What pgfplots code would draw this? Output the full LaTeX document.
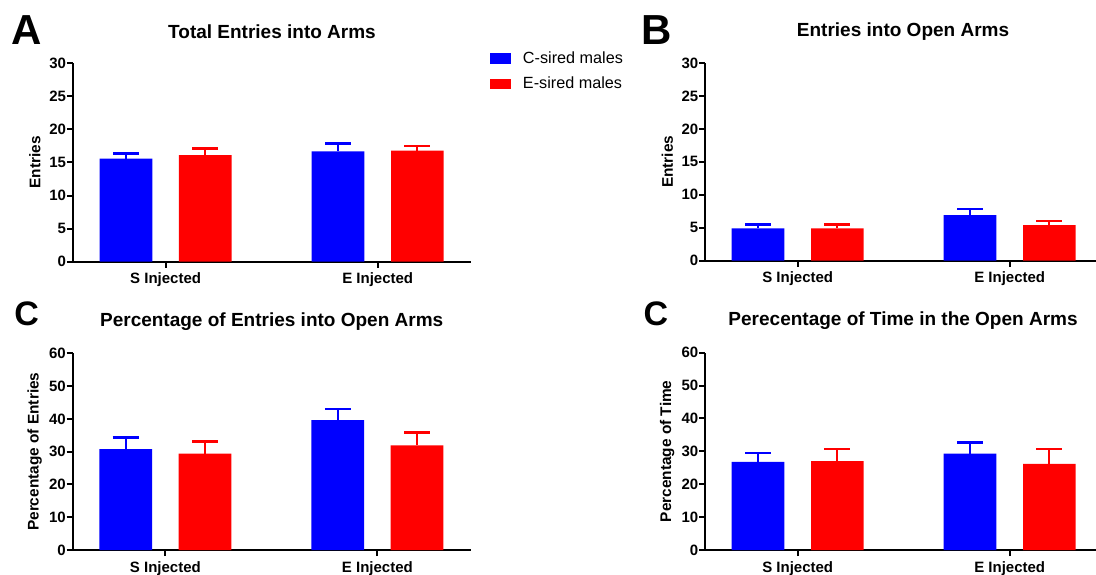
\documentclass[border=0pt]{standalone}
\usepackage{fontspec}
\setmainfont{Liberation Sans}
\usepackage{pgfplots}
\pgfplotsset{compat=1.18}
\definecolor{cblue}{RGB}{0,0,255}
\definecolor{cred}{RGB}{255,0,0}
\pgfplotsset{
  panel/.style={
    scale only axis,
    axis lines*=left,
    axis line style={line width=1pt},
    every tick/.style={line width=1pt, black},
    tick align=outside,
    ymin=0,
    xtick={0,1},
    xticklabels={S Injected, E Injected},
    major tick length=3pt,
    ticklabel style={font=\bfseries\fontsize{7.5}{9}\selectfont},
    yticklabel style={inner sep=0pt, xshift=-0.3pt},
    xticklabel style={yshift=0.9pt},
    /pgf/number format/assume math mode=true,
    every axis y label/.style={font=\bfseries\fontsize{7.7}{9}\selectfont, rotate=90, anchor=center},
    every axis title/.style={font=\bfseries\fontsize{9.5}{11}\selectfont, at={(axis description cs:0.5,1)}, anchor=center, yshift=15.8pt},
    bar width=0.2486,
    clip=false,
  },
  leftp/.style={panel, xmin=-0.437, xmax=1.440, width=199pt,
    ylabel style={at={(axis description cs:-0.0955,0.5)}}},
  rightp/.style={panel, xmin=-0.436, xmax=1.407, width=195.35pt,
    ylabel style={at={(axis description cs:-0.0973,0.5)}}, title style={xshift=1.2pt}},
  bb/.style={ybar, bar shift=0pt, fill=cblue, draw=none,
    error bars/.cd, y dir=plus, y explicit,
    error bar style={line width=1pt, cblue},
    error mark options={rotate=90, mark size=6.5pt, line width=1.3pt, cblue}},
  rb/.style={ybar, bar shift=0pt, fill=cred, draw=none,
    error bars/.cd, y dir=plus, y explicit,
    error bar style={line width=1pt, cred},
    error mark options={rotate=90, mark size=6.5pt, line width=1.3pt, cred}},
}
\begin{document}
\begin{tikzpicture}
\path[use as bounding box] (0,0) rectangle (548pt,287pt);
% Panel A
\begin{axis}[leftp, at={(36.5pt,156.15pt)}, anchor=south west, height=99.2pt,
  ymax=30, ytick={0,5,...,30}, ylabel={Entries}, title={Total Entries into Arms},
  legend style={draw=none, fill=none, at={(axis description cs:1.0477,1.062)}, anchor=north west,
    font=\fontsize{8.1}{9.5}\selectfont, row sep=5.2pt, inner sep=0pt,
    nodes={inner sep=0pt, anchor=west}},
  legend cell align=left,
  legend image code/.code={\fill[#1] (0pt,-2.65pt) rectangle (10.5pt,2.65pt);},
  ]
\addplot[bb] coordinates {(-0.187,15.6) +- (0,0.8) (0.813,16.7) +- (0,1.2)};
\addlegendentry{\hspace{5.8pt}C-sired males}
\addplot[rb] coordinates {(0.187,16.1) +- (0,1.0) (1.187,16.8) +- (0,0.7)};
\addlegendentry{\hspace{5.8pt}E-sired males}
\end{axis}
% Panel B
\begin{axis}[rightp, at={(352.65pt,156.65pt)}, anchor=south west, height=98.85pt,
  ymax=30, ytick={0,5,...,30}, ylabel={Entries}, title={Entries into Open Arms}]
\addplot[bb] coordinates {(-0.187,4.9) +- (0,0.6) (0.813,6.9) +- (0,0.95)};
\addplot[rb] coordinates {(0.187,4.9) +- (0,0.6) (1.187,5.4) +- (0,0.65)};
\end{axis}
% Panel C
\begin{axis}[leftp, at={(36.35pt,12pt)}, anchor=south west, height=98.35pt,
  ymax=60, ytick={0,10,...,60}, ylabel={Percentage of Entries}, title={Percentage of Entries into Open Arms}]
\addplot[bb] coordinates {(-0.187,30.8) +- (0,3.6) (0.813,39.6) +- (0,3.4)};
\addplot[rb] coordinates {(0.187,29.4) +- (0,3.7) (1.187,31.9) +- (0,4.0)};
\end{axis}
% Panel D
\begin{axis}[rightp, at={(352.65pt,12pt)}, anchor=south west, height=98.65pt,
  ymax=60, ytick={0,10,...,60}, ylabel={Percentage of Time}, title={Perecentage of Time in the Open Arms}]
\addplot[bb] coordinates {(-0.187,26.8) +- (0,2.7) (0.813,29.3) +- (0,3.4)};
\addplot[rb] coordinates {(0.187,27.0) +- (0,3.7) (1.187,26.2) +- (0,4.5)};
\end{axis}
% Panel letters
\node[font=\bfseries\fontsize{21}{24}\selectfont] at (13.5pt,272pt) {A};
\node[font=\bfseries\fontsize{21}{24}\selectfont] at (328.2pt,272pt) {B};
\node[font=\bfseries\fontsize{17}{20}\selectfont] at (13.35pt,130pt) {C};
\node[font=\bfseries\fontsize{17}{20}\selectfont] at (328pt,130pt) {C};
\end{tikzpicture}
\end{document}
